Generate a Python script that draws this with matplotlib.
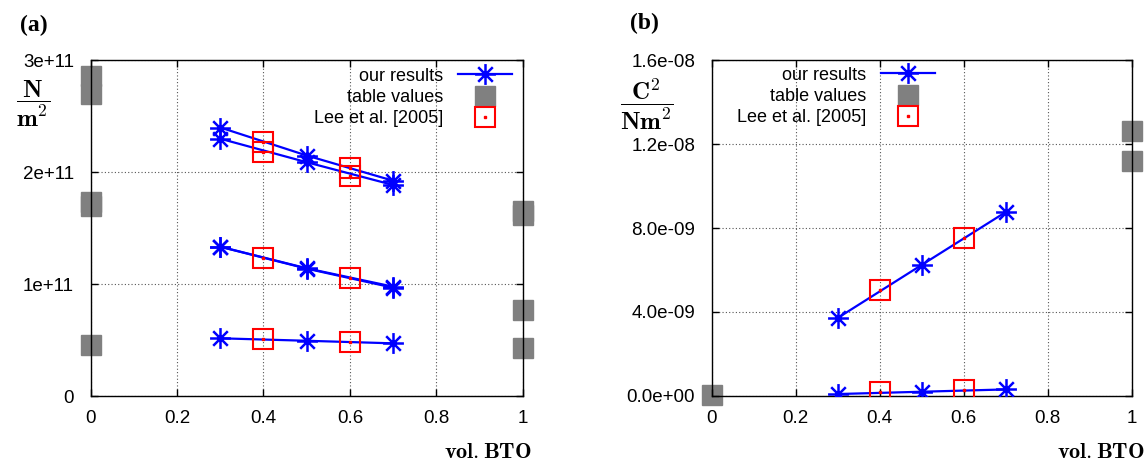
import matplotlib
matplotlib.use('Agg')
import matplotlib.pyplot as plt
from matplotlib.path import Path
from matplotlib.ticker import FuncFormatter

plt.rcParams['font.family'] = ['Liberation Sans', 'DejaVu Sans']
plt.rcParams['mathtext.fontset'] = 'cm'

# data
x_ours = [0.3, 0.5, 0.7]
x_lee = [0.4, 0.6]

ours_a = [[2.40e11, 2.15e11, 1.925e11],
          [2.30e11, 2.09e11, 1.887e11],
          [1.336e11, 1.143e11, 0.979e11],
          [1.335e11, 1.140e11, 0.970e11],
          [0.518e11, 0.496e11, 0.473e11]]
lee_a = [[2.269e11, 2.036e11],
         [2.184e11, 1.971e11],
         [1.238e11, 1.059e11],
         [0.512e11, 0.485e11]]
table_a_x = [0, 0, 0, 0, 0, 1, 1, 1, 1]
table_a_y = [2.864e11, 2.695e11, 1.735e11, 1.70e11, 0.455e11,
             1.659e11, 1.617e11, 0.771e11, 0.427e11]

ours_b = [[3.71e-9, 6.24e-9, 8.76e-9],
          [0.08e-9, 0.19e-9, 0.30e-9]]
lee_b = [[5.03e-9, 7.53e-9],
         [0.16e-9, 0.27e-9]]
table_b_x = [0, 1, 1]
table_b_y = [0.04e-9, 12.63e-9, 11.18e-9]

xticks = [0, 0.2, 0.4, 0.6, 0.8, 1]
yticks_a = [0, 1e11, 2e11, 3e11]
yticklabels_a = ['0', '1e+11', '2e+11', '3e+11']
yticks_b = [0, 4e-9, 8e-9, 1.2e-8, 1.6e-8]

# gnuplot-like asterisk (+ and x)
star = Path([(-1, 0), (1, 0), (0, -1), (0, 1),
             (-.7, -.7), (.7, .7), (-.7, .7), (.7, -.7)],
            [Path.MOVETO, Path.LINETO] * 4)

blue = '#0000ff'
red = '#ff0000'
gray = '#808080'

fig = plt.figure(figsize=(11.48, 4.65), dpi=100)
ax1 = fig.add_axes([0.0790, 0.1477, 0.3763, 0.7226])
ax2 = fig.add_axes([0.6200, 0.1490, 0.3658, 0.7213])


def draw(ax, ours, lee, tx, ty, ymax):
    h_ours = None
    for ys in ours:
        h_ours, = ax.plot(x_ours, ys, color=blue, lw=1.6, marker=star,
                          ms=15, mew=1.8, zorder=3)
    h_tab, = ax.plot(tx, ty, ls='none', marker='s', ms=15, color=gray,
                     clip_on=False, zorder=1)
    for ys in lee:
        h_sq, = ax.plot(x_lee, ys, ls='none', marker='s', ms=15, mfc='none',
                        mec=red, mew=1.5, zorder=4)
        h_dot, = ax.plot(x_lee, ys, ls='none', marker='s', ms=1.5, color=red,
                         zorder=4)
    ax.set_xlim(0, 1)
    ax.set_ylim(0, ymax)
    ax.set_xticks(xticks)
    ax.xaxis.set_major_formatter(FuncFormatter(lambda v, p: '%g' % v))
    ax.tick_params(direction='in', top=True, right=True, labelsize=13.5,
                   length=5, width=1)
    ax.tick_params(axis='x', pad=10)
    ax.tick_params(axis='y', pad=12)
    ax.grid(True, ls=(0, (1, 2)), color='#555555', lw=0.8)
    for s in ax.spines.values():
        s.set_linewidth(1.0)
    return h_ours, h_tab, (h_sq, h_dot)


h1 = draw(ax1, ours_a, lee_a, table_a_x, table_a_y, 3e11)
ax1.set_yticks(yticks_a)
ax1.set_yticklabels(yticklabels_a)
h2 = draw(ax2, ours_b, lee_b, table_b_x, table_b_y, 1.6e-8)
ax2.set_yticks(yticks_b)
ax2.yaxis.set_major_formatter(FuncFormatter(lambda v, p: '%.1e' % v))

labels = ['our results', 'table values', 'Lee et al. [2005]']
for ax, h, bx, by in [(ax1, h1, 0.975, 0.978), (ax2, h2, 0.532, 0.981)]:
    ax.legend(h, labels, loc='upper right', bbox_to_anchor=(bx, by),
              frameon=False, markerfirst=False, fontsize=13,
              handlelength=3, handletextpad=0.8, labelspacing=0.24,
              borderpad=0, borderaxespad=0)

fig.text(20 / 1148, 1 - 25 / 465, '(a)', family='Liberation Serif',
         weight='bold', fontsize=17, va='center')
fig.text(630 / 1148, 1 - 23 / 465, '(b)', family='Liberation Serif',
         weight='bold', fontsize=17, va='center')
fig.text(33 / 1148, 1 - 104 / 465, r'$\mathbf{\dfrac{N}{m^2}}$',
         fontsize=18, ha='center', va='center')
fig.text(647 / 1148, 1 - 104 / 465, r'$\mathbf{\dfrac{C^2}{Nm^2}}$',
         fontsize=18, ha='center', va='center')
fig.text(532 / 1148, 1 - 452 / 465, r'$\mathbf{vol.BTO}$',
         fontsize=16, ha='right', va='center')
fig.text(1145 / 1148, 1 - 452 / 465, r'$\mathbf{vol.BTO}$',
         fontsize=16, ha='right', va='center')

plt.savefig('out.png', dpi=100)
